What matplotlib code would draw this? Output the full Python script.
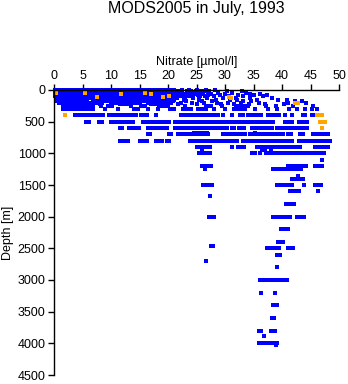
import matplotlib
matplotlib.use("Agg")
import matplotlib.pyplot as plt

plt.rcParams['font.family'] = ['Liberation Sans', 'DejaVu Sans']

TITLE = "MODS2005 in July, 1993"
X_LABEL = "Nitrate [\u00b5mol/l]"
Y_LABEL = "Depth [m]"
x_ticks = [0, 5, 10, 15, 20, 25, 30, 35, 40, 45, 50]
y_ticks = [0, 500, 1000, 1500, 2000, 2500, 3000, 3500, 4000, 4500]

# Nitrate observations (umol/l) grouped by sampling depth (m)
no3_0m = [0.2, 0.6, 1.0, 1.4, 1.9, 2.3, 2.7, 3.1, 3.6, 4.0, 4.4, 4.8, 5.3, 5.7, 6.1, 6.5,
          7.0, 7.4, 7.8, 8.2, 8.7, 9.1, 9.5, 9.9, 10.4, 10.8, 11.2, 11.6, 12.1, 12.5, 12.9,
          13.3, 13.8, 14.2, 14.6, 15.0, 15.5, 15.9, 16.3, 16.7, 17.2, 17.6, 18.0, 18.4, 18.9,
          19.3, 19.7, 20.1, 20.6, 21.0, 22.4, 23.6, 25.1, 26.6, 28.3]
no3_20m = [0.1, 0.5, 0.9, 1.3, 1.8, 2.2, 2.6, 3.0, 3.5, 3.9, 4.3, 4.7, 5.2, 5.6, 6.0, 6.4,
           6.9, 7.3, 7.7, 8.1, 8.6, 9.0, 9.4, 9.8, 10.3, 10.7, 11.1, 11.5, 12.0, 12.4, 12.8,
           13.2, 13.7, 14.1, 14.5, 14.9, 15.4, 15.8, 16.2, 16.6, 17.1, 17.5, 17.9, 18.3, 18.8,
           19.2, 19.6, 20.0, 20.5, 20.9, 21.3, 21.8, 22.2, 23.4, 24.0, 24.9, 25.6, 26.4, 27.2,
           30.4, 32.9]
no3_40m = [0.3, 0.7, 1.1, 1.6, 2.0, 2.4, 2.8, 3.3, 3.7, 4.1, 4.5, 5.0, 5.4, 5.8, 6.2, 6.7,
           7.1, 7.5, 7.9, 8.4, 8.8, 9.2, 9.6, 10.1, 10.5, 10.9, 11.3, 11.8, 12.2, 12.6, 13.0,
           13.5, 13.9, 14.3, 14.7, 15.2, 15.6, 16.0, 16.4, 16.9, 17.3, 17.7, 18.1, 18.6, 19.0,
           19.4, 19.8, 20.3, 20.5, 22.0, 23.8, 24.6, 26.1, 27.0, 28.8, 31.2, 33.6]
no3_60m = [0.1, 0.5, 1.0, 1.4, 1.8, 2.2, 2.7, 3.1, 3.5, 3.9, 4.4, 4.8, 5.2, 5.6, 6.1, 6.5,
           6.9, 7.3, 7.8, 8.2, 8.6, 9.0, 9.5, 9.9, 10.3, 10.7, 11.2, 11.6, 12.0, 12.4, 12.9,
           13.3, 13.7, 14.1, 14.6, 15.0, 15.4, 15.8, 16.3, 16.7, 17.1, 17.5, 18.0, 18.4, 18.8,
           19.2, 19.7, 20.1, 20.5, 20.9, 21.4, 21.8, 22.2, 22.6, 23.0, 24.5, 25.9, 27.6, 30.0,
           34.3, 36.1]
no3_80m = [0.4, 0.8, 1.2, 1.7, 2.1, 2.5, 2.9, 3.4, 3.8, 4.2, 4.6, 5.1, 5.5, 5.9, 6.3, 6.8,
           7.2, 7.6, 8.0, 8.5, 8.9, 9.3, 9.7, 10.2, 10.6, 11.0, 11.4, 11.9, 12.3, 12.7, 13.1,
           13.6, 14.0, 14.4, 14.8, 15.3, 15.7, 16.1, 16.5, 17.0, 17.4, 17.8, 18.2, 18.7, 19.1,
           19.5, 19.9, 20.4, 20.8, 21.2, 21.6, 22.0, 23.5, 24.4, 25.3, 27.0, 29.2, 32.2, 35.0,
           37.4]
no3_100m = [0.2, 0.6, 1.0, 1.5, 1.9, 2.3, 2.7, 3.2, 3.6, 4.0, 4.4, 4.9, 5.3, 5.7, 6.1, 6.6,
            7.0, 7.4, 7.8, 8.3, 8.7, 9.1, 9.5, 10.0, 10.4, 10.8, 11.2, 11.7, 12.1, 12.5, 12.9,
            13.4, 13.8, 14.2, 14.6, 15.1, 15.5, 15.9, 16.3, 16.8, 17.2, 17.6, 18.0, 18.5, 18.9,
            19.3, 19.7, 20.2, 20.6, 21.0, 21.4, 21.9, 22.3, 22.7, 23.1, 23.6, 24.0, 25.6, 26.5,
            28.1, 30.7, 33.1, 36.6]
no3_125m = [0.5, 0.9, 1.3, 1.8, 2.2, 2.6, 3.0, 3.5, 3.9, 4.3, 4.7, 5.2, 5.6, 6.0, 6.4, 6.9,
            7.3, 7.7, 8.1, 8.6, 9.0, 9.4, 9.8, 10.3, 10.7, 11.1, 11.5, 12.0, 12.4, 12.8, 13.2,
            13.7, 14.1, 14.5, 14.9, 15.4, 15.8, 16.2, 16.6, 17.1, 17.5, 17.9, 18.3, 18.8, 19.2,
            19.6, 20.0, 20.5, 20.9, 21.5, 23.0, 24.4, 25.5, 26.9, 29.6, 31.9, 34.4, 38.2]
no3_150m = [0.3, 0.7, 1.1, 1.6, 2.0, 2.4, 2.8, 3.3, 3.7, 4.1, 4.5, 5.0, 5.4, 5.8, 6.8, 7.2,
            7.6, 8.1, 8.5, 8.9, 9.3, 9.8, 10.2, 10.6, 11.0, 11.5, 11.9, 12.3, 12.7, 13.2, 13.6,
            14.0, 14.4, 14.9, 15.3, 15.7, 16.1, 16.6, 17.0, 17.4, 17.8, 18.3, 18.7, 19.1, 19.5,
            21.0, 22.8, 25.5, 28.5, 30.9, 32.1, 35.6, 39.3, 40.9]
no3_175m = [0.5, 0.9, 1.3, 1.8, 2.2, 2.6, 3.0, 3.5, 3.9, 4.3, 4.7, 5.1, 5.5, 7.5, 7.9, 8.3,
            8.8, 9.2, 9.6, 10.0, 10.5, 10.9, 11.3, 11.7, 12.2, 12.6, 13.0, 13.4, 13.9, 14.3,
            14.7, 15.1, 15.6, 16.0, 17.0, 17.4, 17.8, 18.3, 18.7, 19.1, 19.5, 20.0, 20.4, 20.9,
            23.1, 26.0, 27.7, 33.2, 34.6, 42.2, 43.5]
no3_200m = [0.8, 1.2, 1.6, 2.1, 2.5, 2.9, 3.3, 3.8, 4.2, 4.5, 5.5, 5.9, 6.4, 6.8, 7.2, 7.6,
            8.1, 8.5, 10.0, 10.4, 10.8, 11.3, 11.7, 12.1, 12.5, 13.0, 13.4, 13.8, 14.2, 14.7,
            15.0, 16.5, 16.9, 17.3, 17.8, 18.2, 18.6, 19.0, 19.5, 19.9, 20.5, 22.3, 24.2, 26.3,
            28.6, 30.5, 32.8, 36.0, 41.0, 44.2]
no3_225m = [1.5, 1.9, 2.3, 2.8, 3.2, 3.6, 4.0, 4.5, 4.9, 5.3, 5.7, 6.1, 6.5, 8.0, 11.5, 11.9,
            12.4, 12.8, 13.2, 17.0, 17.4, 17.9, 18.3, 18.7, 19.1, 19.5, 21.8, 25.0, 29.3, 31.5,
            34.2, 37.1, 40.4]
no3_250m = [1.6, 2.0, 2.4, 2.9, 3.3, 3.7, 4.1, 4.6, 5.0, 5.4, 5.8, 6.3, 6.7, 6.9, 8.2, 9.5,
            9.9, 10.2, 13.5, 15.3, 15.7, 16.0, 18.5, 18.9, 19.3, 19.7, 20.0, 23.0, 26.7, 27.1,
            27.5, 29.5, 32.0, 32.4, 32.8, 33.2, 33.6, 34.0, 37.2, 39.0, 42.0, 45.5]
no3_300m = [1.6, 2.0, 2.4, 2.6, 3.2, 3.6, 4.0, 4.5, 4.9, 5.3, 5.7, 6.1, 6.5, 6.9, 9.0, 11.2,
            14.0, 14.4, 14.8, 16.5, 18.2, 20.4, 20.7, 21.0, 22.6, 23.0, 23.4, 23.8, 24.0, 25.2,
            25.6, 26.0, 26.4, 26.7, 28.0, 30.0, 31.5, 31.9, 32.3, 32.7, 33.1, 33.5, 35.3, 37.6,
            39.2, 41.3, 42.6, 44.1, 45.3, 46.2]
no3_400m = [3.7, 4.1, 4.6, 5.1, 5.7, 6.1, 6.5, 6.9, 7.3, 7.7, 8.1, 8.6, 9.7, 10.1, 10.5, 10.9,
            11.3, 11.7, 12.1, 12.5, 12.9, 13.3, 13.8, 14.3, 15.2, 15.6, 16.0, 16.4, 17.9, 22.2,
            22.7, 23.2, 23.6, 24.0, 24.4, 24.8, 25.2, 25.6, 26.0, 26.5, 27.0, 27.4, 27.8, 28.3,
            28.8, 29.7, 31.2, 32.6, 33.1, 34.1, 34.5, 34.9, 35.3, 35.7, 36.1, 36.4, 37.6, 38.0,
            38.4, 38.8, 39.1, 39.5, 40.5, 41.7, 43.6, 44.0, 45.2, 45.8]
no3_500m = [5.7, 6.2, 7.9, 8.5, 10.0, 10.4, 10.8, 11.2, 11.6, 12.0, 12.5, 12.8, 13.3, 13.9,
            15.6, 16.0, 16.5, 17.0, 17.4, 18.0, 18.4, 18.8, 19.3, 19.8, 20.2, 21.2, 21.6, 22.0,
            22.4, 22.8, 23.2, 23.6, 24.4, 24.8, 25.2, 25.6, 26.0, 26.4, 26.8, 27.2, 27.5, 27.9,
            28.2, 28.6, 28.9, 29.7, 30.2, 30.8, 31.2, 31.6, 32.0, 32.5, 32.9, 33.3, 33.7, 34.1,
            34.5, 34.9, 35.3, 35.7, 36.1, 36.5, 36.9, 37.3, 37.7, 38.1, 38.5, 40.5, 40.9, 41.3,
            41.7, 42.9, 43.3, 43.7, 44.0, 44.3]
no3_600m = [11.6, 12.0, 13.2, 13.7, 14.2, 14.9, 16.5, 16.9, 17.3, 17.7, 18.1, 18.5, 18.9,
            19.4, 19.8, 21.2, 21.6, 22.0, 22.5, 22.9, 23.3, 23.9, 24.3, 24.7, 25.1, 25.5, 25.9,
            26.3, 26.7, 27.1, 27.4, 27.9, 28.4, 29.1, 29.5, 29.9, 30.3, 31.2, 31.6, 32.5, 32.9,
            33.3, 34.7, 35.1, 35.5, 35.9, 36.3, 36.7, 37.1, 37.5, 37.9, 38.2, 39.1, 39.5, 39.9,
            40.5, 40.9, 41.3, 41.7, 42.1, 42.6, 43.2, 43.6, 44.0, 44.3]
no3_680m = [24.5, 25.0, 25.6, 26.2, 26.8, 35.3]
no3_700m = [16.5, 16.8, 20.1, 20.6, 21.8, 22.2, 22.7, 23.3, 23.7, 24.1, 24.5, 24.9, 25.3,
            25.7, 26.1, 26.5, 26.9, 27.1, 29.7, 30.1, 30.5, 30.9, 31.3, 31.7, 32.1, 32.5, 32.9,
            33.3, 33.5, 34.4, 34.8, 35.2, 35.6, 36.0, 36.4, 36.8, 37.2, 37.6, 38.0, 38.4, 38.8,
            39.2, 39.6, 40.0, 40.2, 41.0, 41.6, 43.2, 43.7, 45.5, 45.9, 46.3, 46.7, 47.1, 47.5,
            47.9, 48.1]
no3_800m = [11.6, 12.0, 12.5, 13.0, 15.1, 15.6, 16.0, 16.3, 17.9, 18.4, 18.9, 19.8, 20.2,
            23.9, 24.3, 24.7, 25.1, 25.5, 25.9, 26.3, 26.7, 27.1, 27.5, 27.9, 28.3, 28.7, 29.1,
            29.7, 30.1, 30.5, 30.9, 31.3, 31.7, 32.1, 33.2, 33.6, 34.0, 34.4, 34.8, 35.2, 35.6,
            36.0, 36.4, 36.8, 37.2, 37.6, 38.0, 38.4, 38.8, 39.2, 39.6, 40.2, 40.6, 41.0, 41.4,
            41.7, 42.9, 43.3, 43.7, 44.1, 44.5, 44.9, 45.2, 45.5, 46.1, 46.5, 46.9, 47.3, 47.7,
            48.1, 48.4]
no3_900m = [25.0, 25.4, 25.8, 26.2, 26.6, 27.0, 27.3, 31.2, 32.3, 32.8, 33.3, 35.6, 36.0,
            36.4, 36.8, 37.2, 37.6, 38.0, 38.4, 38.8, 39.2, 39.6, 40.0, 40.4, 40.8, 41.2, 41.4,
            41.9, 42.3, 42.6, 43.2, 45.8, 46.2, 46.6, 47.0, 47.4, 47.8, 48.1]
no3_950m = [25.9, 36.5, 37.0, 38.0]
no3_1000m = [25.4, 25.8, 26.2, 26.6, 27.0, 27.4, 34.7, 35.3, 36.1, 37.2, 37.6, 38.0, 38.4,
             38.8, 39.2, 39.6, 40.0, 40.4, 40.8, 41.2, 41.6, 42.0, 42.4, 42.9, 43.5, 43.9,
             44.3, 44.7, 45.2, 45.8, 46.2, 46.6, 47.0, 47.4]
no3_1100m = [47.0]
no3_1200m = [25.9, 26.3, 26.7, 27.1, 27.6, 41.1, 41.5, 41.9, 42.3, 42.7, 43.1, 43.5, 44.2,
             45.8, 46.2, 46.6, 47.1]
no3_1250m = [26.5, 38.5, 38.9, 39.3, 39.7, 40.1, 40.5, 40.9, 41.3, 41.7, 42.1, 42.5, 42.9, 43.3]
no3_1350m = [42.8]
no3_1400m = [41.7, 42.1, 42.5, 42.9, 43.3, 43.6]
no3_1500m = [26.2, 26.6, 27.0, 27.4, 27.8, 39.2, 39.6, 40.0, 40.4, 40.8, 41.2, 41.7, 43.9,
             45.8, 46.2, 46.8]
no3_1600m = [41.4, 41.8, 42.2, 42.6, 42.9, 46.4]
no3_1680m = [27.3]
no3_1800m = [40.7, 41.1, 41.5, 41.9, 42.1]
no3_2000m = [27.2, 27.6, 28.0, 38.5, 38.9, 39.3, 39.8, 40.2, 40.6, 41.0, 41.4, 42.6, 43.0,
             43.4, 43.9]
no3_2200m = [39.9, 40.3, 40.7, 41.0]
no3_2400m = [39.3, 39.7, 40.1]
no3_2470m = [27.6, 27.9]
no3_2500m = [37.4, 37.8, 38.2, 38.6, 39.0, 39.5, 41.1, 41.5, 42.0]
no3_2600m = [39.2, 39.6]
no3_2700m = [26.6]
no3_2800m = [39.2]
no3_3000m = [36.1, 36.5, 36.9, 37.3, 37.7, 38.1, 38.5, 38.9, 39.1, 39.6, 40.2, 40.5, 40.8]
no3_3200m = [36.4, 38.7]
no3_3400m = [38.5, 38.8, 39.1]
no3_3600m = [38.3, 38.6]
no3_3800m = [36.0, 36.3, 38.0, 38.4, 38.8]
no3_3880m = [36.8]
no3_4000m = [36.0, 36.4, 36.8, 37.2, 37.7, 38.5, 38.9, 39.2]
no3_4030m = [39.0]

# Quality-flagged observations
flag_depth = [45, 50, 105, 60, 50, 60, 110, 95, 110, 120, 200, 200,
              400, 400, 400, 400, 500, 500, 500, 600]
flag_nitrate = [0.4, 5.4, 7.6, 11.8, 16.0, 17.1, 19.2, 20.2, 30.7, 31.1, 42.3, 42.8,
                2.0, 46.1, 46.6, 47.0, 46.7, 47.1, 47.5, 47.0]

profiles = [
    (0, no3_0m), (20, no3_20m), (40, no3_40m), (60, no3_60m), (80, no3_80m),
    (100, no3_100m), (125, no3_125m), (150, no3_150m), (175, no3_175m),
    (200, no3_200m), (225, no3_225m), (250, no3_250m), (300, no3_300m),
    (400, no3_400m), (500, no3_500m), (600, no3_600m), (680, no3_680m),
    (700, no3_700m), (800, no3_800m), (900, no3_900m), (950, no3_950m),
    (1000, no3_1000m), (1100, no3_1100m), (1200, no3_1200m), (1250, no3_1250m),
    (1350, no3_1350m), (1400, no3_1400m), (1500, no3_1500m), (1600, no3_1600m),
    (1680, no3_1680m), (1800, no3_1800m), (2000, no3_2000m), (2200, no3_2200m),
    (2400, no3_2400m), (2470, no3_2470m), (2500, no3_2500m), (2600, no3_2600m),
    (2700, no3_2700m), (2800, no3_2800m), (3000, no3_3000m), (3200, no3_3200m),
    (3400, no3_3400m), (3600, no3_3600m), (3800, no3_3800m), (3880, no3_3880m),
    (4000, no3_4000m), (4030, no3_4030m),
]

xs, ys = [], []
for depth, values in profiles:
    xs.extend(values)
    ys.extend([depth] * len(values))

fig = plt.figure(figsize=(3.48, 3.84), dpi=100)
ax = fig.add_axes([54 / 348, 1 - 375 / 384, 285 / 348, 285 / 384])

ax.plot(xs, ys, linestyle='none', marker='s', markersize=2.2,
        markeredgewidth=0, color='#0000ff', clip_on=False)
ax.plot(flag_nitrate, flag_depth, linestyle='none', marker='s', markersize=2.3,
        markeredgewidth=0, color='#ffa500', clip_on=False)

ax.set_xlim(0, 50)
ax.set_ylim(4500, 0)
ax.set_xticks(x_ticks)
ax.set_yticks(y_ticks)
ax.xaxis.tick_top()
ax.xaxis.set_label_position('top')
for side in ('right', 'bottom'):
    ax.spines[side].set_visible(False)
for side in ('left', 'top'):
    ax.spines[side].set_linewidth(1.0)
ax.tick_params(axis='both', direction='out', length=4, width=1.0,
               labelsize=9, pad=2)
ax.set_xlabel(X_LABEL, fontsize=9, labelpad=3)
ax.set_ylabel(Y_LABEL, fontsize=9, labelpad=3)
fig.text(196 / 348, 1 - 8 / 384, TITLE, ha='center', va='center', fontsize=11.5)

fig.savefig('out.png', dpi=100)
